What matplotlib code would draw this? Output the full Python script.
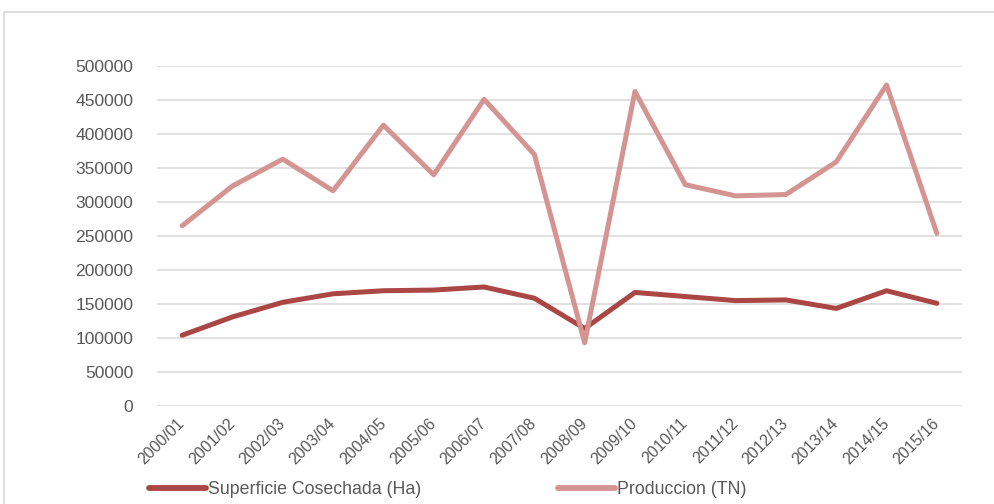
import matplotlib
matplotlib.use('Agg')
import matplotlib.pyplot as plt
from matplotlib.lines import Line2D
from matplotlib.patches import Rectangle

campanias = ['2000/01', '2001/02', '2002/03', '2003/04', '2004/05', '2005/06',
             '2006/07', '2007/08', '2008/09', '2009/10', '2010/11', '2011/12',
             '2012/13', '2013/14', '2014/15', '2015/16']
superficie = [104000, 131000, 152500, 165000, 169500, 170500, 175000, 158500,
              114000, 167000, 161000, 155000, 156000, 143500, 169500, 151000]
produccion = [265000, 323500, 363000, 316500, 413000, 340000, 451000, 370000,
              93000, 462500, 325500, 309000, 311000, 359000, 472000, 254000]
yticks = list(range(0, 500001, 50000))

c_sup = '#AA4643'
c_prod = '#D49492'
txt = '#595959'
fam = ['Liberation Sans Narrow', 'Liberation Sans']

W, H = 995, 504
fig = plt.figure(figsize=(W / 100, H / 100), dpi=100)

# outer chart border (only left and top are visible in the crop)
fig.patches.append(Rectangle((4 / W, -0.1), 1.2, 1 - 12 / H + 0.1,
                             transform=fig.transFigure, fill=False,
                             edgecolor='#D9D9D9', linewidth=1.2))

ax = fig.add_axes([157 / W, 1 - 406 / H, (962 - 157) / W, 340 / H])
x = range(len(campanias))
ax.plot(x, superficie, color=c_sup, lw=3.6,
        solid_capstyle='round', solid_joinstyle='round', zorder=3)
ax.plot(x, produccion, color=c_prod, lw=3.6,
        solid_capstyle='round', solid_joinstyle='round', zorder=3)

ax.set_xlim(-0.5, len(campanias) - 0.5)
ax.set_ylim(0, 500000)
ax.set_yticks(yticks)
ax.set_yticklabels([str(v) for v in yticks], fontsize=12.6,
                   family='Liberation Sans', color=txt)
ax.set_xticks(list(x))
ax.set_xticklabels(campanias, rotation=45, ha='right', va='center',
                   rotation_mode='anchor', fontsize=11.5, family=fam,
                   color=txt)
ax.tick_params(axis='y', length=0, pad=17)
ax.tick_params(axis='x', length=0, pad=11)
ax.grid(axis='y', color='#D9D9D9', lw=1.1)
ax.set_axisbelow(True)
for s in ax.spines.values():
    s.set_visible(False)

leg_kw = dict(frameon=False, handlelength=3.2, handletextpad=0.1,
              borderpad=0, borderaxespad=0, loc='center left',
              prop={'family': fam, 'size': 12.8})
lg1 = fig.legend([Line2D([], [], color=c_sup, lw=4.2, solid_capstyle='round')],
                 ['Superficie Cosechada (Ha)'],
                 bbox_to_anchor=(149 / W, 1 - 490 / H), **leg_kw)
lg2 = fig.legend([Line2D([], [], color=c_prod, lw=4.2, solid_capstyle='round')],
                 ['Produccion (TN)'],
                 bbox_to_anchor=(558 / W, 1 - 490 / H), **leg_kw)
for lg in (lg1, lg2):
    for t in lg.get_texts():
        t.set_color(txt)

fig.savefig('out.png', dpi=100)
